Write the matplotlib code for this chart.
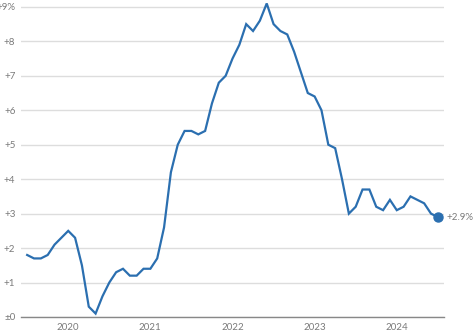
import matplotlib
matplotlib.use("Agg")
import matplotlib.pyplot as plt
import numpy as np

# Monthly year-over-year inflation, Jul 2019 .. Jul 2024
start_year, start_month = 2019, 7
values = [1.8, 1.7, 1.7, 1.8, 2.1, 2.3,
          2.5, 2.3, 1.5, 0.3, 0.1, 0.6, 1.0, 1.3, 1.4, 1.2, 1.2, 1.4,
          1.4, 1.7, 2.6, 4.2, 5.0, 5.4, 5.4, 5.3, 5.4, 6.2, 6.8, 7.0,
          7.5, 7.9, 8.5, 8.3, 8.6, 9.1, 8.5, 8.3, 8.2, 7.7, 7.1, 6.5,
          6.4, 6.0, 5.0, 4.9, 4.0, 3.0, 3.2, 3.7, 3.7, 3.2, 3.1, 3.4,
          3.1, 3.2, 3.5, 3.4, 3.3, 3.0, 2.9]
year_ticks = [2020, 2021, 2022, 2023, 2024]
y_ticks = [0, 1, 2, 3, 4, 5, 6, 7, 8, 9]
y_labels = ["±0", "+1", "+2", "+3", "+4", "+5", "+6", "+7", "+8", "+9%"]
end_label = "+2.9%"

x = np.array([start_year + (start_month - 1 + i) / 12 for i in range(len(values))])
y = np.array(values)

plt.rcParams['font.family'] = ['Lato', 'DejaVu Sans']

fig = plt.figure(figsize=(4.74, 3.33), dpi=100)
ax = fig.add_axes([21/474, 16/333, (444-21)/474, 317/333])

blue = "#2b6fb0"
gray_text = "#7a7a7a"

ax.plot(x, y, color=blue, lw=1.6, solid_joinstyle="miter", zorder=3, clip_on=False)
ax.plot(x[-1], y[-1], "o", color=blue, ms=6.5, zorder=4, clip_on=False)
ax.annotate(end_label, (x[-1], y[-1]), xytext=(6, 0), textcoords="offset points",
            va="center", ha="left", fontsize=7, color=gray_text)

ax.set_xlim(x[0] - 0.9/12, x[-1] + 0.9/12)
ax.set_ylim(0, 9.2)

ax.set_yticks(y_ticks)
ax.set_yticklabels(y_labels)
ax.set_xticks(year_ticks)
ax.set_xticklabels([str(v) for v in year_ticks])
ax.tick_params(axis="both", length=0, labelsize=7, colors=gray_text)
ax.tick_params(axis="y", pad=4)
ax.tick_params(axis="x", pad=4)

ax.grid(axis="y", color="#dddddd", lw=1.0)
ax.set_axisbelow(True)
for s in ["top", "right", "left"]:
    ax.spines[s].set_visible(False)
ax.spines["bottom"].set_color("#888888")
ax.spines["bottom"].set_linewidth(1.0)
ax.spines["bottom"].set_zorder(2)

fig.savefig("out.png", dpi=100)
